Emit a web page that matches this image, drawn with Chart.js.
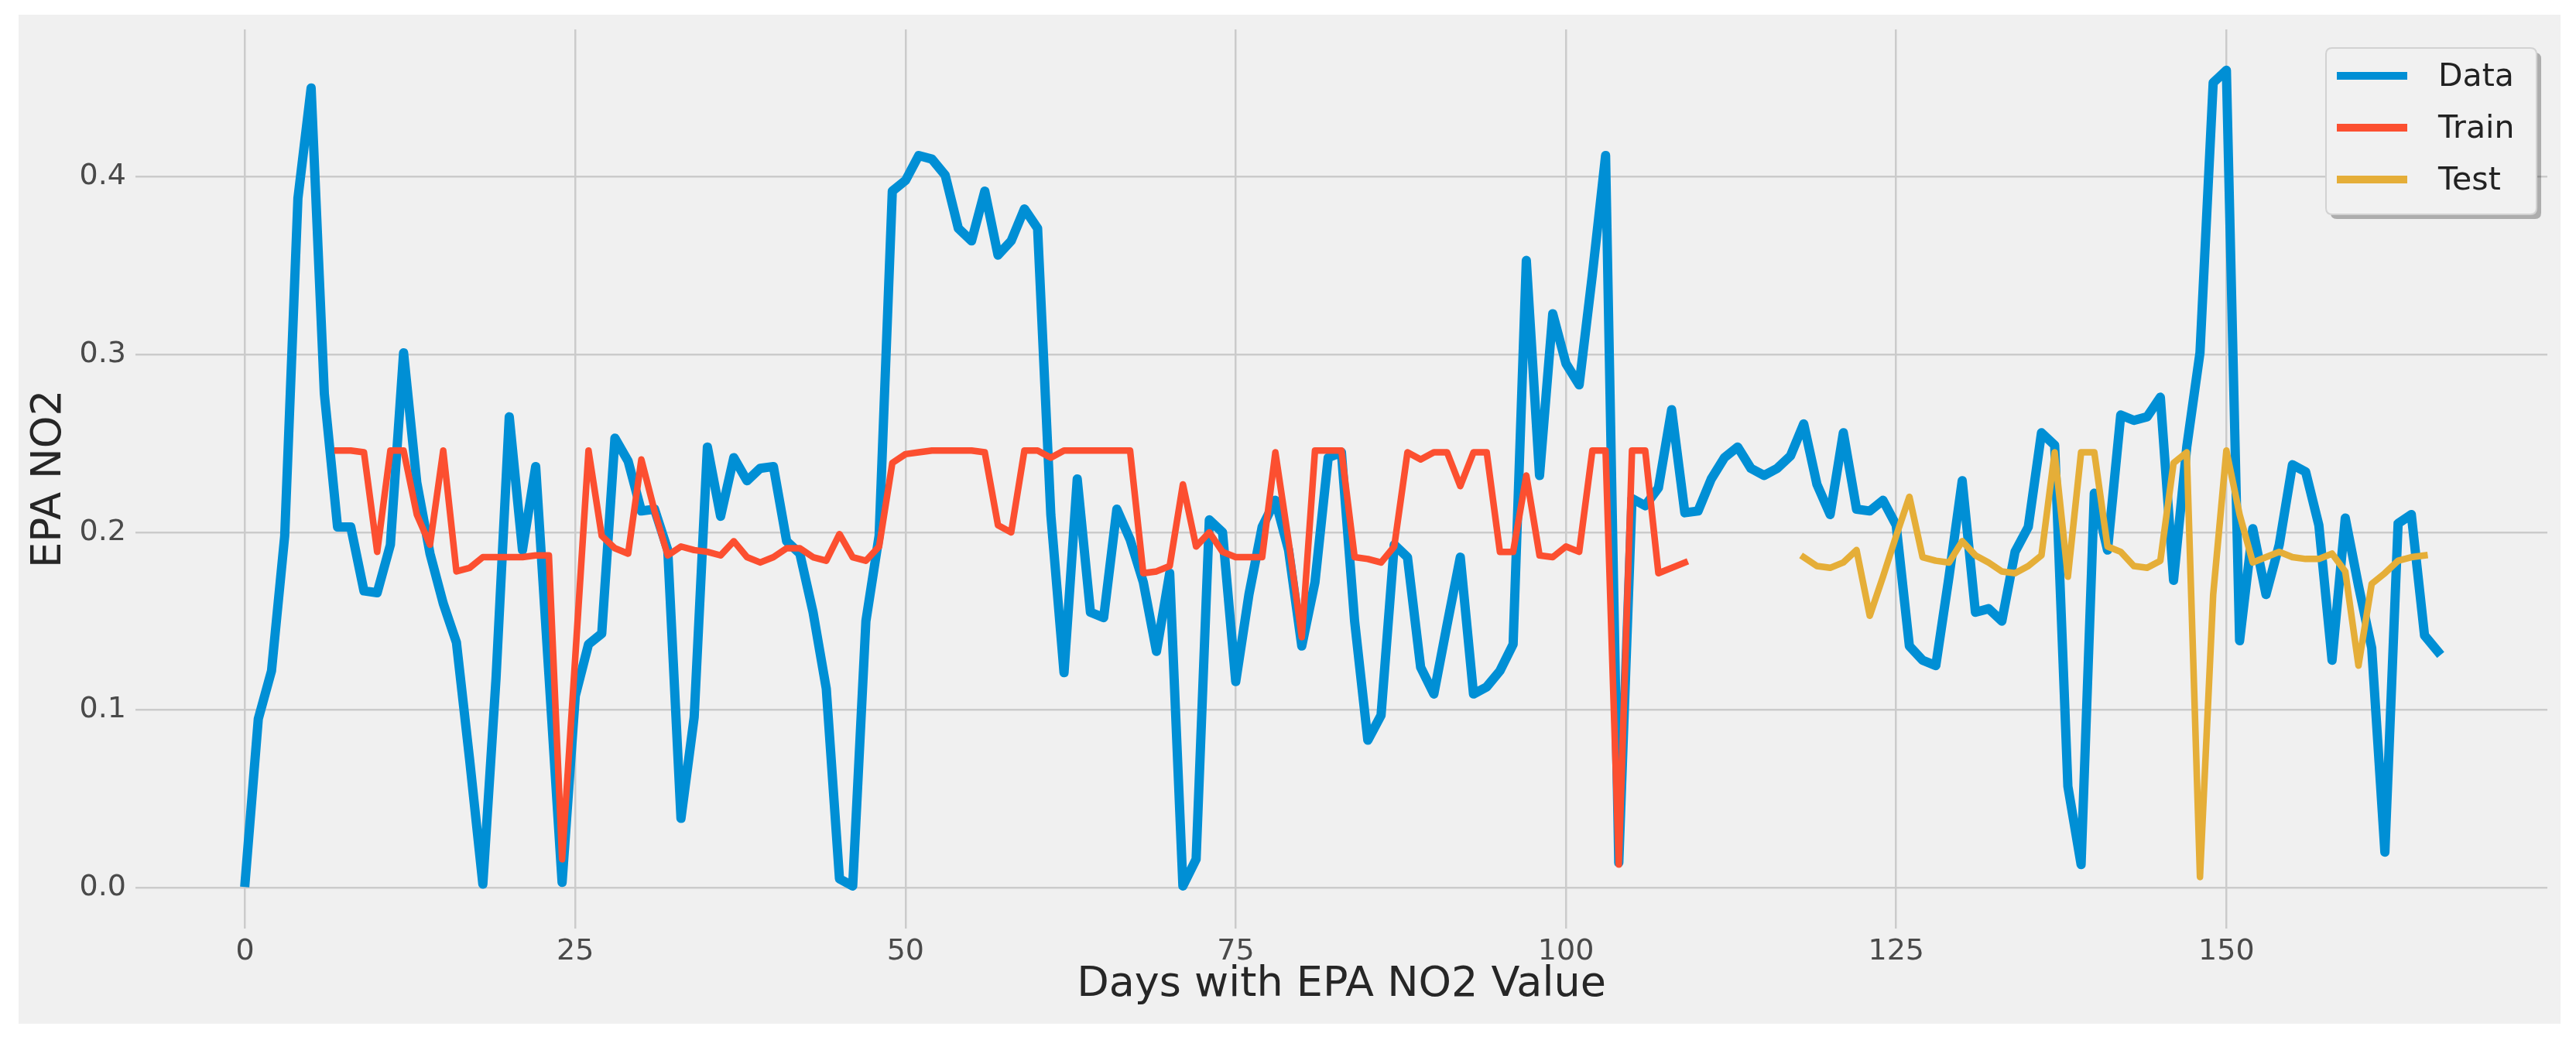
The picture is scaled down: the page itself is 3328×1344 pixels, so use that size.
<!DOCTYPE html>
<html lang="en">
<head>
    <meta charset="UTF-8">
    <title>EPA NO2</title>
    <script src="https://cdn.jsdelivr.net/npm/chart.js"></script>
    <style>
        html, body { margin: 0; padding: 0; background: #ffffff; }
        #wrap { width: 3328px; height: 1344px; }
    </style>
</head>
<body>
    <div id="wrap">
        <canvas id="lineChart" width="3328" height="1344"></canvas>
    </div>
    <script>
        // values
        const dataVals = [
            0.003, 0.095, 0.122, 0.198, 0.388, 0.450, 0.278, 0.203, 0.203, 0.167,
            0.166, 0.193, 0.301, 0.228, 0.188, 0.160, 0.138, 0.072, 0.002, 0.118,
            0.265, 0.190, 0.237, 0.120, 0.003, 0.108, 0.137, 0.143, 0.253, 0.240,
            0.212, 0.213, 0.190, 0.039, 0.096, 0.248, 0.209, 0.242, 0.229, 0.236,
            0.237, 0.195, 0.188, 0.155, 0.112, 0.005, 0.001, 0.150, 0.198, 0.392,
            0.398, 0.412, 0.410, 0.401, 0.371, 0.364, 0.392, 0.356, 0.364, 0.382,
            0.371, 0.210, 0.121, 0.230, 0.155, 0.152, 0.213, 0.196, 0.172, 0.133,
            0.177, 0.001, 0.016, 0.207, 0.200, 0.116, 0.165, 0.203, 0.218, 0.190,
            0.136, 0.172, 0.242, 0.245, 0.150, 0.083, 0.097, 0.193, 0.186, 0.124,
            0.109, 0.148, 0.186, 0.109, 0.113, 0.122, 0.137, 0.353, 0.232, 0.323,
            0.295, 0.283, 0.345, 0.412, 0.014, 0.219, 0.215, 0.225, 0.269, 0.211,
            0.212, 0.230, 0.242, 0.248, 0.236, 0.232, 0.236, 0.243, 0.261, 0.227,
            0.210, 0.256, 0.213, 0.212, 0.218, 0.204, 0.136, 0.128, 0.125, 0.175,
            0.229, 0.155, 0.157, 0.150, 0.189, 0.203, 0.256, 0.249, 0.057, 0.013,
            0.222, 0.190, 0.266, 0.263, 0.265, 0.276, 0.173, 0.248, 0.301, 0.453,
            0.460, 0.139, 0.202, 0.165, 0.193, 0.238, 0.234, 0.204, 0.128, 0.208,
            0.170, 0.135, 0.020, 0.205, 0.210, 0.142, 0.133
        ];

        const trainStart = 7;
        const trainVals = [
            0.246, 0.246, 0.245, 0.189, 0.246, 0.246, 0.210, 0.193, 0.246, 0.178,
            0.180, 0.186, 0.186, 0.186, 0.186, 0.187, 0.187, 0.016, 0.130, 0.246,
            0.198, 0.191, 0.188, 0.241, 0.212, 0.187, 0.192, 0.190, 0.189, 0.187,
            0.195, 0.186, 0.183, 0.186, 0.191, 0.191, 0.186, 0.184, 0.199, 0.186,
            0.184, 0.192, 0.239, 0.244, 0.245, 0.246, 0.246, 0.246, 0.246, 0.245,
            0.204, 0.200, 0.246, 0.246, 0.242, 0.246, 0.246, 0.246, 0.246, 0.246,
            0.246, 0.177, 0.178, 0.181, 0.227, 0.192, 0.200, 0.189, 0.186, 0.186,
            0.186, 0.245, 0.195, 0.141, 0.246, 0.246, 0.246, 0.186, 0.185, 0.183,
            0.192, 0.245, 0.241, 0.245, 0.245, 0.226, 0.245, 0.245, 0.189, 0.189,
            0.232, 0.187, 0.186, 0.192, 0.189, 0.246, 0.246, 0.013, 0.246, 0.246,
            0.177, 0.180, 0.183
        ];

        const testStart = 118;
        const testVals = [
            0.186, 0.181, 0.180, 0.183, 0.190, 0.153, 0.175, 0.198, 0.220, 0.186,
            0.184, 0.183, 0.195, 0.187, 0.183, 0.178, 0.177, 0.181, 0.187, 0.245,
            0.175, 0.245, 0.245, 0.192, 0.189, 0.181, 0.180, 0.184, 0.239, 0.245,
            0.006, 0.165, 0.246, 0.210, 0.183, 0.186, 0.189, 0.186, 0.185, 0.185,
            0.188, 0.178, 0.125, 0.171, 0.177, 0.184, 0.186, 0.187
        ];

        const seriesNames = ['Data', 'Train', 'Test'];
        const xTicks = [0, 25, 50, 75, 100, 125, 150];
        const yTicks = [0.0, 0.1, 0.2, 0.3, 0.4];

        const FONT = "'DejaVu Sans', sans-serif";

        function toPoints(vals, start) {
            return vals.map((v, i) => ({ x: start + i, y: v }));
        }

        // figure background: white border with grey face
        const figureBg = {
            id: 'figureBg',
            beforeDraw(chart) {
                const ctx = chart.ctx;
                ctx.save();
                ctx.fillStyle = '#ffffff';
                ctx.fillRect(0, 0, chart.width, chart.height);
                ctx.fillStyle = '#f0f0f0';
                ctx.fillRect(24, 19, 3284, 1304);
                ctx.restore();
            }
        };

        function roundRect(ctx, x, y, w, h, r) {
            ctx.beginPath();
            ctx.moveTo(x + r, y);
            ctx.lineTo(x + w - r, y);
            ctx.quadraticCurveTo(x + w, y, x + w, y + r);
            ctx.lineTo(x + w, y + h - r);
            ctx.quadraticCurveTo(x + w, y + h, x + w - r, y + h);
            ctx.lineTo(x + r, y + h);
            ctx.quadraticCurveTo(x, y + h, x, y + h - r);
            ctx.lineTo(x, y + r);
            ctx.quadraticCurveTo(x, y, x + r, y);
            ctx.closePath();
        }

        // matplotlib-like legend box with shadow, upper right
        const boxLegend = {
            id: 'boxLegend',
            afterDraw(chart) {
                const ctx = chart.ctx;
                const bx = 3005, by = 62, bw = 272, bh = 215;
                ctx.save();
                ctx.fillStyle = 'rgba(0, 0, 0, 0.28)';
                roundRect(ctx, bx + 6, by + 6, bw, bh, 8);
                ctx.fill();
                ctx.fillStyle = '#f1f1f1';
                roundRect(ctx, bx, by, bw, bh, 8);
                ctx.fill();
                ctx.strokeStyle = '#d2d2d2';
                ctx.lineWidth = 2;
                ctx.stroke();

                ctx.font = '41px ' + FONT;
                ctx.textBaseline = 'middle';
                ctx.textAlign = 'left';
                chart.data.datasets.forEach((ds, i) => {
                    const y = 98 + i * 67;
                    ctx.strokeStyle = ds.borderColor;
                    ctx.lineWidth = 10;
                    ctx.lineCap = 'butt';
                    ctx.beginPath();
                    ctx.moveTo(3019, y);
                    ctx.lineTo(3110, y);
                    ctx.stroke();
                    ctx.fillStyle = '#222222';
                    ctx.fillText(ds.label, 3150, y + 2);
                });
                ctx.restore();
            }
        };

        const ctxLine = document.getElementById('lineChart').getContext('2d');
        const lineChart = new Chart(ctxLine, {
            type: 'line',
            data: {
                datasets: [
                    {
                        label: seriesNames[0],
                        data: toPoints(dataVals, 0),
                        borderColor: '#008fd5',
                        borderWidth: 12,
                        order: 2
                    },
                    {
                        label: seriesNames[1],
                        data: toPoints(trainVals, trainStart),
                        borderColor: '#fc4f30',
                        borderWidth: 8.5,
                        order: 1
                    },
                    {
                        label: seriesNames[2],
                        data: toPoints(testVals, testStart),
                        borderColor: '#e5ae38',
                        borderWidth: 8.5,
                        order: 0
                    }
                ]
            },
            options: {
                responsive: false,
                animation: false,
                devicePixelRatio: 1,
                parsing: true,
                elements: {
                    point: { radius: 0, hoverRadius: 0 },
                    line: { tension: 0, borderJoinStyle: 'round', borderCapStyle: 'square', fill: false }
                },
                layout: { padding: { left: 0, right: 37, top: 38, bottom: 0 } },
                plugins: {
                    legend: { display: false },
                    tooltip: { enabled: false }
                },
                scales: {
                    x: {
                        type: 'linear',
                        min: -8.3,
                        max: 174.3,
                        afterFit: axis => { axis.height = 144; },
                        afterBuildTicks: axis => { axis.ticks = xTicks.map(v => ({ value: v })); },
                        grid: { color: '#cbcbcb', lineWidth: 2.5, drawTicks: false },
                        border: { display: false },
                        ticks: {
                            padding: 7,
                            maxRotation: 0,
                            color: '#4a4a4a',
                            font: { family: FONT, size: 38 },
                            callback: v => String(v)
                        },
                        title: {
                            display: true,
                            text: 'Days with EPA NO2 Value',
                            color: '#262626',
                            font: { family: FONT, size: 54 },
                            padding: { top: 0, bottom: 39 }
                        }
                    },
                    y: {
                        type: 'linear',
                        min: -0.023,
                        max: 0.483,
                        afterFit: axis => { axis.width = 175; },
                        afterBuildTicks: axis => { axis.ticks = yTicks.map(v => ({ value: v })); },
                        grid: { color: '#cbcbcb', lineWidth: 2.5, drawTicks: false },
                        border: { display: false },
                        ticks: {
                            padding: 12,
                            color: '#4a4a4a',
                            font: { family: FONT, size: 38 },
                            callback: v => v.toFixed(1)
                        },
                        title: {
                            display: true,
                            text: 'EPA NO2',
                            color: '#262626',
                            font: { family: FONT, size: 53 },
                            padding: { top: 32, bottom: 0 }
                        }
                    }
                }
            },
            plugins: [figureBg, boxLegend]
        });
    </script>
</body>
</html>
